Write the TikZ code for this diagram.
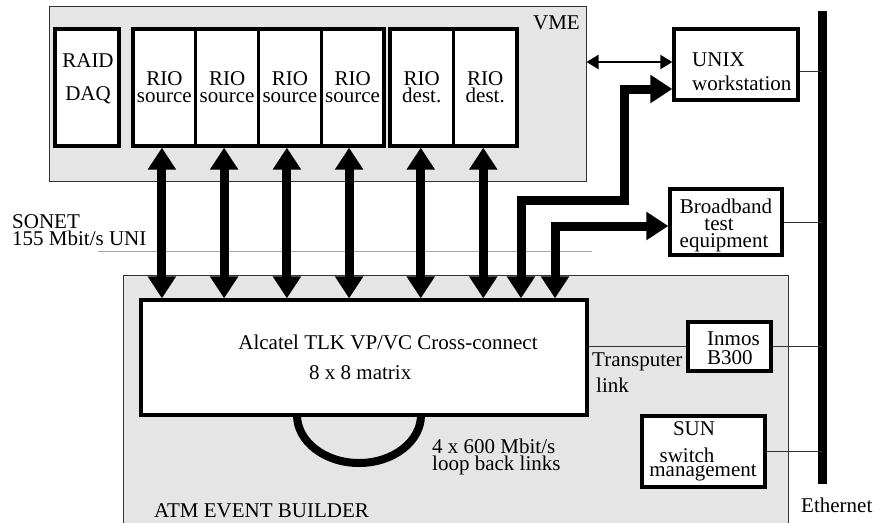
\documentclass[tikz,border=0pt]{standalone}
\usepackage{fontspec}
\setmainfont{Liberation Serif}
\usetikzlibrary{arrows.meta}
\newcommand\lblfont{\fontsize{21}{20}\selectfont}
\definecolor{panel}{gray}{0.9}
\definecolor{sonetline}{gray}{0.65}
\tikzset{
  panelbox/.style={draw=black!80, fill=panel, line width=1pt, inner sep=0pt},
  tbox/.style={draw=black, fill=white, line width=3.3pt, inner sep=0pt},
  lbl/.style={inner sep=0pt, font=\lblfont},
  bigarr/.style={line width=9pt, line join=miter,
    {Triangle[length=22pt,width=27pt]}-{Triangle[length=22pt,width=27pt]}},
  thinarr/.style={line width=2pt, {Triangle[length=12pt,width=14pt]}-{Triangle[length=12pt,width=14pt]}},
  thinline/.style={draw=black!80, line width=1pt},
}
\begin{document}
\begin{tikzpicture}[x=1pt,y=-1pt]
\useasboundingbox (0,0) rectangle (874,522);
% panels
\node[panelbox, minimum width=665pt, minimum height=260pt] (atm) at (455.5,405) {};
\node[panelbox, minimum width=537pt, minimum height=175pt] (vme) at (317.5,93.5) {};
% SONET boundary
\coordinate (sonL) at (98,251);
\coordinate (sonR) at (592,251);
\draw[draw=sonetline, line width=1pt] (sonL) -- (sonR);
% VME modules
\node[tbox, minimum width=64pt, minimum height=117pt] (raid) at (87,87.5) {};
\node[tbox, minimum width=62.75pt, minimum height=117pt] (rs1) at (164.4,87.5) {};
\node[tbox, minimum width=62.75pt, minimum height=117pt] (rs2) at (227.1,87.5) {};
\node[tbox, minimum width=62.75pt, minimum height=117pt] (rs3) at (289.9,87.5) {};
\node[tbox, minimum width=62.75pt, minimum height=117pt] (rs4) at (352.6,87.5) {};
\node[tbox, minimum width=63.5pt, minimum height=117pt] (rd1) at (421.75,87.5) {};
\node[tbox, minimum width=63.5pt, minimum height=117pt] (rd2) at (485.25,87.5) {};
% other boxes
\node[tbox, minimum width=124pt, minimum height=71pt] (unix) at (736,64.5) {};
\node[tbox, minimum width=112pt, minimum height=66pt] (bb) at (726,222) {};
\node[tbox, minimum width=83pt, minimum height=49pt] (inmos) at (729.5,346.5) {};
\node[tbox, minimum width=123pt, minimum height=71pt] (sun) at (703.5,451.5) {};
\node[tbox, minimum width=446pt, minimum height=115pt] (xc) at (364,357.5) {};
% Ethernet
\coordinate (etop) at (822,11);
\coordinate (ebot) at (822,484);
\draw[line width=9pt] (etop) -- (ebot);
\draw[thinline] ([yshift=-6.5pt]unix.east) -- ([yshift=-6.5pt]unix.east -| etop);
\draw[thinline] (bb.east) -- (bb.east -| etop);
\draw[thinline] (inmos.east) -- (inmos.east -| etop);
\draw[thinline] (sun.east) -- (sun.east -| etop);
\draw[thinline] (inmos.west -| xc.east) -- (inmos.west);
% vertical links
\foreach \n/\dx in {rs1/-2.5,rs2/-3,rs3/-3,rs4/-3.5,rd1/-1,rd2/-2}{
  \draw[bigarr] ([xshift=\dx pt]\n.south) -- ([xshift=\dx pt]\n.south |- xc.north);
}
% links to UNIX and broadband
\coordinate (ua) at (521,0 |- xc.north);
\coordinate (ba) at (555,0 |- xc.north);
\draw[bigarr] (ua) -- (521,200) -- (624,200) -- (624,89) -- ([yshift=-24.5pt]unix.west);
\draw[bigarr] (ba) -- (555,226) -- ([yshift=-4pt]bb.west);
% VME <-> UNIX
\draw[thinarr] ([yshift=2.5pt]unix.west -| vme.east) -- ([yshift=2.5pt]unix.west);
% loop back
\coordinate (loopL) at (297,415);
\coordinate (loopR) at (421,415);
\draw[line width=8pt] (loopL) .. controls (297,441.5) and (324.8,463) .. (359,463)
  .. controls (393.2,463) and (421,441.5) .. (loopR);
% labels
\node[lbl, anchor=base east] (tvme) at (580,29) {VME};
\node[lbl, anchor=base] (traid1) at (88,67) {RAID};
\node[lbl, anchor=base] (traid2) at (88,100) {DAQ};
\foreach \n in {rs1,rs2,rs3,rs4}{
  \node[lbl, anchor=base] at (\n.center |- 0,85) {RIO};
  \node[lbl, anchor=base] at (\n.center |- 0,102) {source};
}
\foreach \n in {rd1,rd2}{
  \node[lbl, anchor=base] at (\n.center |- 0,85) {RIO};
  \node[lbl, anchor=base] at (\n.center |- 0,102) {dest.};
}
\node[lbl, anchor=base west] (tunix1) at (692,66) {UNIX};
\node[lbl, anchor=base west] (tunix2) at (692,90) {workstation};
\node[lbl, anchor=base] (tbb1) at (726,213) {Broadband};
\node[lbl, anchor=base] (tbb2) at (719,230) {test};
\node[lbl, anchor=base] (tbb3) at (724,247) {equipment};
\node[lbl, anchor=base west] (tin1) at (707,345) {Inmos};
\node[lbl, anchor=base west] (tin2) at (707,364) {B300};
\node[lbl, anchor=base] (tsun1) at (694,435) {SUN};
\node[lbl, anchor=base] (tsun2) at (687,462) {switch};
\node[lbl, anchor=base] (tsun3) at (703,476) {management};
\node[lbl, anchor=base west] (ttr1) at (592,366) {Transputer};
\node[lbl, anchor=base west] (ttr2) at (596,392) {link};
\node[lbl, anchor=base] (txc1) at (388,349) {Alcatel TLK VP/VC Cross-connect};
\node[lbl, anchor=base west] (txc2) at (309,379) {8 x 8 matrix};
\node[lbl, anchor=base west] (tloop1) at (432,453) {4 x 600 Mbit/s};
\node[lbl, anchor=base west] (tloop2) at (432,470) {loop back links};
\node[lbl, anchor=base west] (tson1) at (12,228) {SONET};
\node[lbl, anchor=base west] (tson2) at (12,245) {155 Mbit/s UNI};
\node[lbl, anchor=base west] (tatm) at (154,517) {ATM EVENT BUILDER};
\node[lbl, anchor=base west] (teth) at (801,512) {Ethernet};
\end{tikzpicture}
\end{document}
